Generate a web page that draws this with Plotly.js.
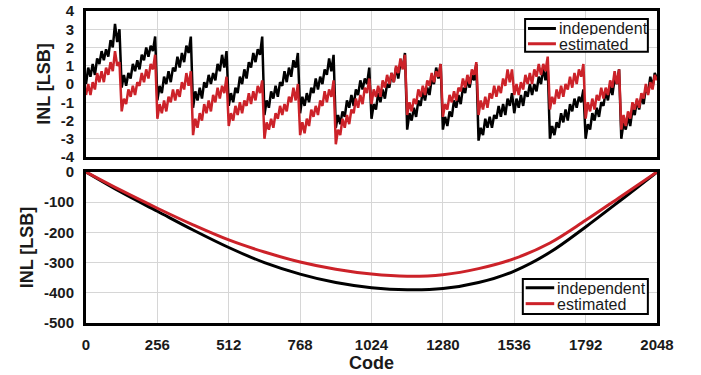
<!DOCTYPE html>
<html>
<head>
<meta charset="utf-8">
<script src="https://cdn.plot.ly/plotly-3.0.1.min.js"></script>
<style>html,body{margin:0;padding:0;background:#fff;}#chart{width:701px;height:375px;}</style>
</head>
<body>
<div id="chart"></div>
<script>
// Code axis ticks
const codeTicks = [0, 256, 512, 768, 1024, 1280, 1536, 1792, 2048];
const topYTicks = [4, 3, 2, 1, 0, -1, -2, -3, -4];
const bottomYTicks = [0, -100, -200, -300, -400, -500];
const seriesNames = ["independent", "estimated"];

// Top panel: INL sampled every 8 codes (0 ... 2048)
const topStep = 8;
const independentTop = [
  0.0,0.9,0.4,1.1,0.5,1.4,1.1,1.8,1.3,1.9,1.5,2.4,2.0,3.3,2.3,3.0,
  -0.2,0.5,-0.1,0.6,0.3,1.1,0.7,1.3,0.8,1.6,1.3,2.0,1.5,2.1,1.8,2.6,
  -0.9,-0.1,-0.5,0.4,0.0,0.7,0.1,0.9,0.7,1.5,0.9,1.7,1.2,2.1,1.7,2.6,
  -1.3,-0.4,-0.9,-0.2,-0.8,0.1,-0.2,0.5,0.0,0.6,0.2,1.1,0.7,1.6,0.9,1.8,
  -1.2,-0.5,-1.0,-0.2,-0.5,0.4,0.0,0.8,0.3,1.2,0.9,1.7,1.2,1.9,1.6,2.6,
  -1.7,-0.9,-1.3,-0.4,-0.8,-0.1,-0.7,0.1,-0.1,0.7,0.1,0.9,0.4,1.3,0.9,1.7,
  -1.6,-0.7,-1.2,-0.5,-1.0,-0.2,-0.5,0.3,-0.3,0.4,0.0,0.8,0.5,1.4,0.7,1.6,
  -2.4,-1.7,-2.2,-1.5,-1.8,-0.9,-1.3,-0.6,-1.2,-0.3,-0.6,0.2,-0.3,0.3,0.0,0.9,
  -1.9,-1.1,-1.4,-0.5,-1.0,-0.3,-0.8,0.0,-0.2,0.6,0.1,0.9,0.3,1.2,0.9,1.7,
  -2.5,-1.6,-2.0,-1.3,-1.8,-0.9,-1.2,-0.4,-0.9,-0.2,-0.6,0.3,0.0,0.9,0.3,1.1,
  -2.5,-1.8,-2.3,-1.5,-1.8,-0.9,-1.3,-0.6,-1.1,-0.2,-0.5,0.3,-0.2,0.5,0.2,1.1,
  -3.1,-2.4,-2.8,-1.9,-2.4,-1.8,-2.4,-1.7,-1.9,-1.2,-1.8,-1.1,-1.7,-0.8,-1.2,-0.5,
  -1.6,-0.8,-1.3,-0.6,-1.2,-0.4,-0.7,0.0,-0.6,0.0,-0.4,0.4,0.0,0.9,0.2,0.9,
  -3.0,-2.3,-2.8,-2.1,-2.4,-1.6,-2.1,-1.4,-2.0,-1.1,-1.5,-0.8,-1.3,-0.7,-1.0,-0.3,
  -3.0,-2.2,-2.5,-1.6,-2.0,-1.3,-1.8,-1.0,-1.2,-0.4,-0.9,-0.1,-0.6,0.3,0.0,0.8,
  -3.0,-2.1,-2.5,-1.8,-2.3,-1.4,-1.7,-0.9,-1.4,-0.7,-1.1,-0.2,-0.5,0.4,-0.2,0.6,
  0.3
];
const estimatedTop = [
  -0.6,0.0,-0.6,0.1,-0.3,0.6,0.1,0.7,0.1,0.9,0.5,1.2,0.7,1.8,1.0,1.2,
  -1.5,-0.8,-1.1,-0.3,-0.7,-0.1,-0.6,0.1,-0.1,0.6,0.1,0.8,0.3,1.1,0.8,1.6,
  -1.9,-1.1,-1.6,-0.9,-1.5,-0.7,-1.0,-0.3,-0.9,-0.3,-0.7,0.1,-0.3,0.6,-0.1,0.7,
  -2.8,-1.9,-2.4,-1.6,-2.0,-1.1,-1.6,-0.9,-1.5,-0.6,-1.0,-0.2,-0.8,-0.1,-0.5,0.4,
  -2.3,-1.6,-2.0,-1.2,-1.7,-1.0,-1.6,-0.9,-1.2,-0.5,-1.1,-0.4,-0.9,-0.1,-0.5,0.2,
  -3.0,-2.1,-2.5,-1.9,-2.4,-1.6,-1.9,-1.2,-1.7,-1.1,-1.5,-0.7,-1.0,-0.2,-0.9,0.0,
  -2.8,-2.1,-2.7,-1.9,-2.3,-1.4,-1.8,-1.2,-1.7,-0.9,-1.2,-0.4,-1.0,-0.3,-0.7,0.2,
  -3.3,-2.5,-2.8,-1.9,-2.4,-1.7,-2.2,-1.4,-1.6,-0.8,-1.3,-0.6,-1.1,-0.2,-0.5,0.3,
  -1.1,-0.3,-0.7,-0.1,-0.7,0.2,-0.2,0.5,0.0,0.6,0.1,1.0,0.6,1.4,0.8,1.6,
  -1.7,-1.0,-1.5,-0.8,-1.1,-0.3,-0.7,-0.1,-0.6,0.2,-0.1,0.6,0.1,0.7,0.4,1.1,
  -1.8,-1.1,-1.4,-0.6,-1.0,-0.4,-0.9,-0.2,-0.4,0.3,-0.2,0.5,0.0,0.8,0.5,1.2,
  -1.7,-0.9,-1.4,-0.7,-1.3,-0.5,-0.8,-0.1,-0.7,-0.1,-0.5,0.3,-0.1,0.8,0.1,0.8,
  -0.6,0.0,-0.6,0.1,-0.3,0.5,0.0,0.6,0.0,0.8,0.4,1.1,0.5,1.1,0.7,1.5,
  -1.4,-0.7,-1.1,-0.3,-0.8,-0.1,-0.7,0.0,-0.3,0.4,-0.2,0.6,0.0,0.8,0.4,1.1,
  -1.9,-1.0,-1.5,-0.8,-1.4,-0.6,-0.9,-0.2,-0.8,-0.2,-0.6,0.2,-0.2,0.7,0.0,0.8,
  -2.5,-1.7,-2.3,-1.5,-1.9,-1.0,-1.4,-0.8,-1.3,-0.5,-0.8,0.0,-0.6,0.1,-0.3,0.5,
  0.2
];

// Bottom panel: INL sampled every 128 codes
const bottomCodes = [0,128,256,384,512,640,768,896,1024,1152,1280,1408,1536,1664,1792,1920,2048];
const independentBottom = [0,-68,-130,-192,-250,-300,-338,-366,-383,-390,-386,-366,-328,-266,-182,-92,0];
const estimatedBottom  = [0,-62,-120,-175,-225,-265,-298,-322,-338,-345,-340,-320,-287,-235,-160,-80,0];

const topCodes = independentTop.map((_, i) => i * topStep);

const BLACK = "#000000";
const RED = "#cc2229";
const FONT = "Liberation Sans, Arial, sans-serif";
const GRID = "#d6d6d6";
const TXT = "#1a1a1a";

const traces = [
  {x: topCodes, y: independentTop, type: "scatter", mode: "lines", name: seriesNames[0],
   line: {color: BLACK, width: 2.5}, xaxis: "x", yaxis: "y"},
  {x: topCodes, y: estimatedTop, type: "scatter", mode: "lines", name: seriesNames[1],
   line: {color: RED, width: 2.5}, xaxis: "x", yaxis: "y"},
  {x: bottomCodes, y: independentBottom, type: "scatter", mode: "lines", name: seriesNames[0],
   line: {color: BLACK, width: 3, shape: "spline"}, xaxis: "x2", yaxis: "y2"},
  {x: bottomCodes, y: estimatedBottom, type: "scatter", mode: "lines", name: seriesNames[1],
   line: {color: RED, width: 3, shape: "spline"}, xaxis: "x2", yaxis: "y2"}
];

const tickFont = {family: FONT, size: 15, color: TXT, weight: "bold"};
const titleFont = {family: FONT, size: 18, color: TXT, weight: "bold"};

const axBase = {
  showgrid: true, gridcolor: GRID, gridwidth: 1, zeroline: false,
  showline: true, mirror: true, linecolor: BLACK, linewidth: 3,
  ticks: "outside", ticklen: 6, tickcolor: "rgba(0,0,0,0)",
  tickfont: tickFont, fixedrange: true
};

// Legend boxes (paper coordinates): [x0, x1, yTop, yBottom, row1, row2, lineX0, lineX1, textX]
const legendBoxes = [
  [0.769, 0.984, 0.974, 0.869, 0.944, 0.895, 0.774, 0.823, 0.826],
  [0.765, 0.984, 0.141, 0.029, 0.113, 0.062, 0.770, 0.820, 0.823]
];
const shapes = [];
const annotations = [];
legendBoxes.forEach(b => {
  shapes.push({type: "rect", xref: "paper", yref: "paper", x0: b[0], x1: b[1], y0: b[3], y1: b[2],
    line: {color: BLACK, width: 2}, fillcolor: "#ffffff", layer: "above"});
  [[b[4], BLACK, seriesNames[0]], [b[5], RED, seriesNames[1]]].forEach(r => {
    shapes.push({type: "line", xref: "paper", yref: "paper", x0: b[6], x1: b[7], y0: r[0], y1: r[0],
      line: {color: r[1], width: 3}, layer: "above"});
    annotations.push({xref: "paper", yref: "paper", x: b[8], y: r[0], xanchor: "left", yanchor: "middle",
      text: r[2], showarrow: false, height: 14, borderpad: 0,
      font: {family: FONT, size: 16, color: TXT}});
  });
});

const layout = {
  width: 701, height: 375,
  margin: {l: 86, r: 44, t: 11, b: 52},
  paper_bgcolor: "#ffffff", plot_bgcolor: "#ffffff",
  showlegend: false,
  xaxis: Object.assign({}, axBase, {domain: [0, 1], range: [0, 2048], tickvals: codeTicks,
    showticklabels: false, anchor: "y"}),
  yaxis: Object.assign({}, axBase, {domain: [0.532, 1], range: [-4, 4], tickvals: topYTicks,
    ticktext: topYTicks.map(String), anchor: "x",
    title: {text: "INL [LSB]", font: titleFont, standoff: 6}}),
  xaxis2: Object.assign({}, axBase, {domain: [0, 1], range: [0, 2048], tickvals: codeTicks,
    ticktext: codeTicks.map(String), anchor: "y2", title: {text: "Code", font: titleFont, standoff: 4}}),
  yaxis2: Object.assign({}, axBase, {domain: [0, 0.484], range: [-500, 0], tickvals: bottomYTicks,
    ticktext: bottomYTicks.map(String), anchor: "x2",
    title: {text: "INL [LSB]", font: titleFont, standoff: 6}}),
  shapes: shapes,
  annotations: annotations
};

Plotly.newPlot("chart", traces, layout, {displayModeBar: false, staticPlot: true});
</script>
</body>
</html>
